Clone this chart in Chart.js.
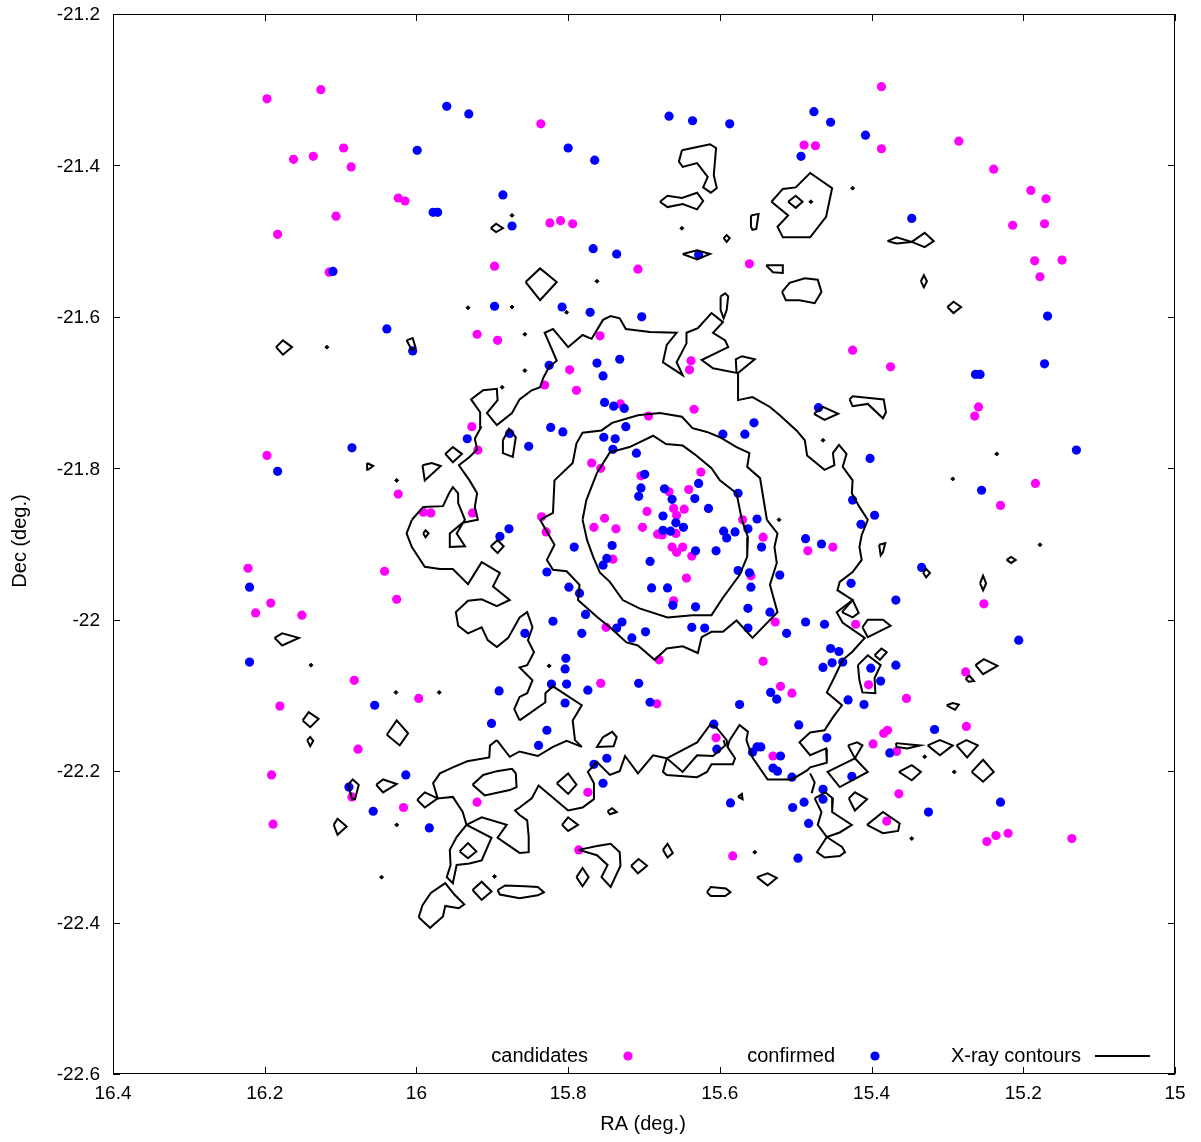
<!DOCTYPE html>
<html><head><meta charset="utf-8">
<script src="https://cdn.jsdelivr.net/npm/chart.js@4.4.1/dist/chart.umd.min.js"></script>
<style>html,body{margin:0;padding:0;background:#fff}#wrap{width:1201px;height:1142px}</style>
</head><body><div id="wrap"><canvas id="c" width="1201" height="1142"></canvas></div>
<script>
const xTicks = [16.4, 16.2, 16, 15.8, 15.6, 15.4, 15.2, 15];
const yTicks = [-22.6, -22.4, -22.2, -22, -21.8, -21.6, -21.4, -21.2];
const legendLabels = ['candidates', 'confirmed', 'X-ray contours'];
const axisTitles = {x: 'RA (deg.)', y: 'Dec (deg.)'};

const candidates = [
[16.197,-21.312],[16.126,-21.300],[16.162,-21.392],[16.136,-21.388],[16.096,-21.377],[16.086,-21.402],[16.024,-21.443],[16.015,-21.447],[16.106,-21.467],[16.183,-21.491],
[16.115,-21.541],[15.897,-21.533],[15.836,-21.345],[15.824,-21.476],[15.810,-21.473],[15.794,-21.477],[15.708,-21.537],[15.561,-21.530],[15.489,-21.373],[15.387,-21.296],
[15.474,-21.374],[15.387,-21.378],[15.285,-21.368],[15.239,-21.405],[15.190,-21.433],[15.170,-21.444],[15.214,-21.479],[15.172,-21.477],[15.185,-21.526],[15.149,-21.525],
[15.178,-21.547],[15.920,-21.623],[15.893,-21.631],[16.197,-21.783],[16.024,-21.834],[15.991,-21.858],[15.981,-21.859],[15.927,-21.745],[15.919,-21.776],[15.926,-21.859],
[15.758,-21.625],[15.798,-21.670],[15.831,-21.690],[15.789,-21.697],[15.638,-21.658],[15.640,-21.670],[15.731,-21.715],[15.634,-21.722],[15.694,-21.731],[15.769,-21.793],
[15.757,-21.800],[15.704,-21.810],[15.625,-21.805],[15.667,-21.831],[15.641,-21.828],[15.661,-21.853],[15.647,-21.854],[15.696,-21.857],[15.657,-21.862],[15.752,-21.866],
[15.835,-21.864],[15.570,-21.868],[15.829,-21.884],[15.766,-21.878],[15.737,-21.880],[15.702,-21.878],[15.682,-21.887],[15.676,-21.888],[15.658,-21.886],[15.543,-21.891],
[15.741,-21.920],[15.663,-21.904],[15.657,-21.911],[15.649,-21.904],[15.637,-21.916],[15.484,-21.909],[15.559,-21.942],[15.644,-21.945],[15.661,-21.975],[15.527,-22.003],
[15.750,-22.010],[15.680,-22.053],[15.543,-22.055],[15.757,-22.084],[15.683,-22.111],[15.520,-22.088],[15.505,-22.097],[15.605,-22.156],[16.222,-21.932],[16.192,-21.978],
[16.212,-21.991],[16.151,-21.994],[16.042,-21.936],[16.026,-21.973],[16.082,-22.080],[15.997,-22.104],[16.180,-22.114],[15.451,-21.904],[15.252,-21.979],[15.421,-22.006],
[15.404,-22.086],[15.276,-22.069],[15.354,-22.104],[15.384,-22.150],[15.379,-22.146],[15.275,-22.141],[15.425,-21.644],[15.375,-21.666],[15.259,-21.719],[15.264,-21.731],
[15.184,-21.820],[15.230,-21.849],[16.077,-22.171],[16.191,-22.205],[16.085,-22.234],[16.017,-22.248],[15.920,-22.241],[16.189,-22.270],[15.774,-22.228],[15.786,-22.304],
[15.530,-22.180],[15.583,-22.312],[15.398,-22.164],[15.367,-22.174],[15.364,-22.230],[15.380,-22.266],[15.236,-22.285],[15.248,-22.293],[15.220,-22.282],[15.136,-22.289]
];

const confirmed = [
[15.960,-21.322],[15.931,-21.332],[15.999,-21.380],[15.886,-21.439],[15.978,-21.462],[15.972,-21.462],[15.874,-21.480],[16.110,-21.540],[15.800,-21.377],[15.765,-21.393],
[15.667,-21.335],[15.636,-21.341],[15.587,-21.345],[15.493,-21.388],[15.767,-21.510],[15.736,-21.517],[15.628,-21.518],[15.476,-21.329],[15.454,-21.343],[15.408,-21.360],
[15.347,-21.470],[16.039,-21.616],[16.005,-21.645],[15.897,-21.586],[16.085,-21.773],[16.183,-21.804],[15.933,-21.761],[15.877,-21.754],[15.808,-21.587],[15.771,-21.594],
[15.703,-21.600],[15.825,-21.664],[15.762,-21.661],[15.732,-21.656],[15.754,-21.678],[15.752,-21.713],[15.740,-21.718],[15.726,-21.721],[15.823,-21.746],[15.807,-21.752],
[15.724,-21.745],[15.852,-21.771],[15.753,-21.759],[15.738,-21.761],[15.741,-21.775],[15.710,-21.780],[15.596,-21.755],[15.567,-21.755],[15.555,-21.740],[15.699,-21.808],
[15.628,-21.820],[15.673,-21.827],[15.704,-21.826],[15.707,-21.837],[15.663,-21.841],[15.633,-21.840],[15.576,-21.833],[15.615,-21.853],[15.675,-21.863],[15.551,-21.867],
[15.658,-21.872],[15.675,-21.882],[15.665,-21.883],[15.648,-21.878],[15.595,-21.883],[15.580,-21.884],[15.563,-21.880],[15.545,-21.904],[15.591,-21.892],[15.792,-21.904],
[15.742,-21.902],[15.749,-21.919],[15.754,-21.928],[15.692,-21.923],[15.632,-21.909],[15.605,-21.909],[15.487,-21.893],[15.828,-21.937],[15.576,-21.935],[15.561,-21.938],
[15.521,-21.941],[15.799,-21.957],[15.785,-21.965],[15.690,-21.958],[15.669,-21.958],[15.559,-21.957],[15.662,-21.981],[15.632,-21.983],[15.563,-21.985],[15.534,-21.990],
[15.777,-21.993],[15.820,-22.002],[15.857,-22.018],[15.782,-22.018],[15.729,-22.003],[15.736,-22.011],[15.716,-22.024],[15.698,-22.016],[15.637,-22.010],[15.620,-22.011],
[15.563,-22.011],[15.512,-22.018],[15.487,-22.003],[15.803,-22.051],[15.804,-22.065],[15.822,-22.085],[15.802,-22.085],[15.774,-22.093],[15.707,-22.084],[15.692,-22.109],
[15.804,-22.110],[15.574,-22.112],[15.533,-22.096],[15.525,-22.105],[15.828,-22.146],[15.608,-22.138],[15.496,-22.139],[15.168,-21.599],[15.263,-21.676],[15.257,-21.676],
[15.172,-21.662],[15.470,-21.720],[15.402,-21.787],[15.130,-21.776],[15.255,-21.829],[15.425,-21.842],[15.396,-21.862],[16.220,-21.957],[15.878,-21.880],[15.890,-21.890],
[16.220,-22.056],[16.055,-22.113],[15.891,-22.094],[15.901,-22.137],[15.414,-21.874],[15.466,-21.900],[15.334,-21.931],[15.427,-21.952],[15.368,-21.974],[15.462,-22.006],
[15.206,-22.027],[15.454,-22.038],[15.443,-22.042],[15.464,-22.063],[15.452,-22.057],[15.438,-22.056],[15.401,-22.064],[15.388,-22.081],[15.368,-22.060],[15.431,-22.106],
[15.410,-22.112],[15.317,-22.145],[15.459,-22.156],[16.089,-22.221],[16.014,-22.205],[16.057,-22.253],[15.983,-22.275],[15.839,-22.166],[15.749,-22.183],[15.766,-22.191],
[15.754,-22.216],[15.604,-22.171],[15.557,-22.175],[15.551,-22.168],[15.546,-22.168],[15.520,-22.180],[15.530,-22.196],[15.524,-22.200],[15.505,-22.208],[15.586,-22.242],
[15.504,-22.248],[15.489,-22.241],[15.483,-22.269],[15.497,-22.315],[15.376,-22.176],[15.426,-22.207],[15.464,-22.224],[15.464,-22.237],[15.325,-22.254],[15.230,-22.241]
];

// closed X-ray contour loops
const contourInner = [[15.781,-21.868],[15.776,-21.842],[15.762,-21.806],[15.745,-21.779],[15.719,-21.772],[15.688,-21.757],[15.671,-21.768],[15.649,-21.770],[15.631,-21.783],[15.611,-21.800],[15.600,-21.816],[15.578,-21.833],[15.571,-21.868],[15.563,-21.891],[15.564,-21.917],[15.574,-21.941],[15.596,-21.971],[15.611,-21.994],[15.636,-21.994],[15.669,-21.997],[15.706,-21.985],[15.728,-21.974],[15.745,-21.950],[15.758,-21.938],[15.767,-21.917],[15.775,-21.895]];
const contourMiddle = [[15.837,-21.868],[15.820,-21.859],[15.818,-21.816],[15.794,-21.793],[15.789,-21.767],[15.781,-21.753],[15.756,-21.750],[15.742,-21.740],[15.708,-21.730],[15.679,-21.727],[15.650,-21.732],[15.636,-21.747],[15.617,-21.752],[15.600,-21.759],[15.578,-21.772],[15.561,-21.780],[15.564,-21.798],[15.547,-21.813],[15.538,-21.868],[15.524,-21.886],[15.528,-21.904],[15.525,-21.925],[15.534,-21.954],[15.524,-21.990],[15.557,-22.024],[15.578,-22.001],[15.596,-22.016],[15.611,-22.016],[15.624,-22.023],[15.629,-22.044],[15.649,-22.035],[15.670,-22.038],[15.686,-22.053],[15.708,-22.034],[15.723,-22.030],[15.745,-22.010],[15.761,-21.997],[15.787,-21.974],[15.785,-21.954],[15.802,-21.936],[15.820,-21.934],[15.828,-21.921],[15.818,-21.901]];
const smallContours = [
[[15.650,-21.380],[15.636,-21.377],[15.613,-21.372],[15.605,-21.377],[15.608,-21.413],[15.604,-21.430],[15.612,-21.436],[15.622,-21.429],[15.616,-21.415],[15.630,-21.397],[15.649,-21.402],[15.654,-21.395]],
[[15.679,-21.448],[15.669,-21.440],[15.650,-21.443],[15.630,-21.436],[15.622,-21.447],[15.630,-21.458],[15.649,-21.451],[15.669,-21.455]],
[[15.559,-21.466],[15.549,-21.464],[15.552,-21.484],[15.557,-21.485],[15.559,-21.481]],
[[15.649,-21.517],[15.630,-21.512],[15.613,-21.517],[15.630,-21.524]],
[[15.539,-21.532],[15.517,-21.532],[15.517,-21.542],[15.530,-21.541]],
[[15.532,-21.448],[15.517,-21.431],[15.500,-21.429],[15.481,-21.410],[15.452,-21.430],[15.460,-21.468],[15.481,-21.495],[15.517,-21.495],[15.524,-21.481],[15.510,-21.466]],
[[15.510,-21.448],[15.500,-21.440],[15.491,-21.448],[15.500,-21.456]],
[[15.856,-21.554],[15.837,-21.536],[15.815,-21.554],[15.837,-21.578]],
[[15.518,-21.567],[15.508,-21.555],[15.488,-21.549],[15.471,-21.551],[15.466,-21.567],[15.475,-21.582],[15.495,-21.578],[15.513,-21.578]],
[[15.599,-21.573],[15.593,-21.569],[15.589,-21.573],[15.591,-21.591],[15.595,-21.602],[15.599,-21.591]],
[[15.595,-21.496],[15.591,-21.492],[15.587,-21.496],[15.591,-21.501]],
[[15.902,-21.483],[15.895,-21.477],[15.886,-21.483],[15.895,-21.488]],
[[15.379,-21.500],[15.367,-21.495],[15.347,-21.501],[15.330,-21.489],[15.318,-21.500],[15.330,-21.508],[15.347,-21.501],[15.367,-21.503]],
[[15.335,-21.553],[15.331,-21.545],[15.327,-21.553],[15.331,-21.561]],
[[16.185,-21.640],[16.176,-21.631],[16.164,-21.640],[16.176,-21.650]],
[[16.013,-21.631],[16.005,-21.628],[16.001,-21.641],[16.006,-21.644]],
[[15.300,-21.587],[15.292,-21.580],[15.282,-21.587],[15.292,-21.595]],
[[15.429,-21.709],[15.425,-21.705],[15.384,-21.709],[15.381,-21.726],[15.385,-21.734],[15.405,-21.715],[15.425,-21.718]],
[[15.476,-21.728],[15.464,-21.719],[15.444,-21.728],[15.462,-21.736]],
[[15.992,-21.796],[15.980,-21.793],[15.968,-21.797],[15.989,-21.816]],
[[15.962,-21.781],[15.952,-21.772],[15.940,-21.781],[15.952,-21.792]],
[[15.886,-21.763],[15.878,-21.748],[15.869,-21.759],[15.873,-21.785],[15.886,-21.780]],
[[16.065,-21.793],[16.057,-21.797],[16.064,-21.802]],
[[16.187,-22.024],[16.177,-22.018],[16.155,-22.024],[16.177,-22.034]],
[[16.150,-22.133],[16.142,-22.122],[16.129,-22.131],[16.140,-22.142]],
[[16.039,-22.152],[16.026,-22.133],[16.011,-22.150],[16.022,-22.166]],
[[15.902,-21.903],[15.893,-21.895],[15.885,-21.903],[15.893,-21.912]],
[[15.991,-21.886],[15.988,-21.882],[15.984,-21.886],[15.988,-21.891]],
[[15.412,-22.010],[15.405,-22.000],[15.385,-22.000],[15.375,-22.008],[15.405,-22.023]],
[[15.418,-22.060],[15.405,-22.047],[15.388,-22.060],[15.396,-22.077],[15.395,-22.097],[15.412,-22.096],[15.416,-22.080]],
[[15.396,-22.047],[15.387,-22.038],[15.380,-22.043],[15.389,-22.053]],
[[15.439,-21.990],[15.425,-21.974],[15.417,-21.991],[15.425,-21.997]],
[[15.390,-21.901],[15.382,-21.899],[15.385,-21.911],[15.388,-21.915]],
[[15.332,-21.938],[15.328,-21.933],[15.323,-21.938],[15.328,-21.944]],
[[15.257,-21.952],[15.253,-21.942],[15.249,-21.952],[15.253,-21.961]],
[[15.222,-21.921],[15.216,-21.917],[15.210,-21.921],[15.216,-21.925]],
[[15.263,-22.060],[15.252,-22.052],[15.234,-22.061],[15.253,-22.072]],
[[15.276,-22.078],[15.271,-22.074],[15.265,-22.081],[15.272,-22.082]],
[[15.301,-22.113],[15.293,-22.110],[15.285,-22.112],[15.290,-22.119]],
[[15.475,-22.236],[15.461,-22.228],[15.451,-22.236],[15.452,-22.254],[15.426,-22.271],[15.442,-22.281],[15.459,-22.287],[15.471,-22.271],[15.466,-22.254]],
[[15.459,-22.287],[15.439,-22.300],[15.435,-22.307],[15.442,-22.312],[15.462,-22.314],[15.472,-22.307]],
[[15.431,-22.166],[15.419,-22.162],[15.412,-22.166],[15.422,-22.183]],
[[15.422,-22.183],[15.405,-22.201],[15.442,-22.221],[15.458,-22.201]],
[[15.430,-22.236],[15.422,-22.228],[15.406,-22.237],[15.422,-22.252]],
[[15.406,-22.271],[15.385,-22.254],[15.363,-22.269],[15.365,-22.279],[15.385,-22.282]],
[[15.368,-22.163],[15.336,-22.166],[15.353,-22.170],[15.367,-22.168]],
[[15.326,-22.166],[15.310,-22.159],[15.293,-22.166],[15.310,-22.179]],
[[15.288,-22.166],[15.275,-22.159],[15.260,-22.166],[15.274,-22.182]],
[[15.364,-22.201],[15.347,-22.192],[15.335,-22.201],[15.347,-22.212]],
[[15.268,-22.201],[15.253,-22.185],[15.239,-22.201],[15.253,-22.214]],
[[16.090,-22.218],[16.084,-22.211],[16.076,-22.218],[16.081,-22.237],[16.085,-22.236]],
[[16.053,-22.218],[16.044,-22.211],[16.026,-22.217],[16.044,-22.228]],
[[15.999,-22.238],[15.989,-22.228],[15.972,-22.236],[15.989,-22.248]],
[[16.109,-22.271],[16.104,-22.263],[16.092,-22.273],[16.104,-22.284]],
[[15.926,-22.357],[15.914,-22.346],[15.901,-22.359],[15.914,-22.370]],
[[15.997,-22.393],[15.992,-22.377],[15.981,-22.361],[15.962,-22.348],[15.950,-22.363],[15.937,-22.376],[15.944,-22.381],[15.962,-22.378],[15.965,-22.392],[15.982,-22.407]],
[[15.926,-22.218],[15.912,-22.205],[15.894,-22.200],[15.874,-22.197],[15.869,-22.203],[15.868,-22.221],[15.877,-22.225],[15.910,-22.232]],
[[16.144,-22.159],[16.140,-22.155],[16.136,-22.160],[16.140,-22.167]],
[[15.943,-22.306],[15.932,-22.295],[15.921,-22.306],[15.932,-22.315]],
[[15.934,-22.271],[15.947,-22.287],[15.956,-22.304],[15.955,-22.324],[15.960,-22.340],[15.952,-22.348],[15.947,-22.324],[15.930,-22.322],[15.914,-22.318],[15.901,-22.288]],
[[15.815,-22.216],[15.800,-22.203],[15.789,-22.218],[15.800,-22.230]],
[[15.748,-22.253],[15.742,-22.249],[15.736,-22.254],[15.745,-22.257]],
[[15.808,-22.271],[15.800,-22.261],[15.787,-22.271],[15.800,-22.279]],
[[15.786,-22.304],[15.762,-22.299],[15.744,-22.296],[15.732,-22.307],[15.731,-22.325],[15.744,-22.353],[15.756,-22.340],[15.748,-22.324],[15.762,-22.311]],
[[15.789,-22.340],[15.781,-22.328],[15.773,-22.340],[15.781,-22.352]],
[[15.717,-22.325],[15.707,-22.316],[15.696,-22.325],[15.708,-22.335]],
[[15.675,-22.304],[15.669,-22.296],[15.662,-22.308],[15.669,-22.314]],
[[15.893,-22.357],[15.883,-22.351],[15.857,-22.352],[15.840,-22.353],[15.832,-22.360],[15.840,-22.364],[15.864,-22.368],[15.890,-22.363]],
[[15.617,-22.360],[15.612,-22.353],[15.592,-22.355],[15.586,-22.360],[15.593,-22.365],[15.612,-22.365]],
[[15.551,-22.340],[15.537,-22.335],[15.525,-22.341],[15.537,-22.351]],
[[15.576,-22.234],[15.571,-22.230],[15.570,-22.237]],
[[15.754,-22.155],[15.742,-22.148],[15.736,-22.155],[15.740,-22.167],[15.762,-22.168]]
];
// open X-ray contour polylines
const contourOuterA = [[16.006,-21.868],[15.991,-21.851],[15.965,-21.850],[15.957,-21.833],[15.952,-21.825],[15.945,-21.833],[15.945,-21.846],[15.936,-21.868],[15.947,-21.886],[15.936,-21.903],[15.956,-21.904],[15.956,-21.886],[15.939,-21.872],[15.919,-21.868],[15.923,-21.851],[15.920,-21.833],[15.930,-21.816],[15.944,-21.796],[15.930,-21.785],[15.920,-21.775],[15.923,-21.761],[15.915,-21.746],[15.916,-21.726],[15.928,-21.709],[15.912,-21.697],[15.894,-21.695],[15.893,-21.710],[15.907,-21.727],[15.894,-21.743],[15.874,-21.727],[15.864,-21.709],[15.848,-21.697],[15.837,-21.693],[15.833,-21.681],[15.825,-21.666],[15.815,-21.658],[15.821,-21.644],[15.831,-21.621],[15.820,-21.616],[15.800,-21.640],[15.781,-21.624],[15.769,-21.629],[15.754,-21.604],[15.744,-21.599],[15.732,-21.602],[15.724,-21.616],[15.692,-21.620],[15.657,-21.621],[15.670,-21.637],[15.675,-21.660],[15.649,-21.677],[15.657,-21.660],[15.644,-21.635],[15.644,-21.621],[15.629,-21.615],[15.611,-21.595],[15.596,-21.607],[15.609,-21.621],[15.593,-21.631],[15.589,-21.640],[15.624,-21.657],[15.609,-21.668],[15.578,-21.674],[15.579,-21.656],[15.571,-21.652],[15.554,-21.656],[15.576,-21.674],[15.576,-21.710],[15.557,-21.706],[15.534,-21.719],[15.521,-21.730],[15.499,-21.750],[15.488,-21.763],[15.485,-21.783],[15.462,-21.802],[15.449,-21.796],[15.451,-21.780],[15.443,-21.769],[15.433,-21.781],[15.438,-21.798],[15.425,-21.816],[15.426,-21.833],[15.416,-21.851],[15.405,-21.868],[15.413,-21.888],[15.416,-21.904],[15.413,-21.921],[15.425,-21.937],[15.442,-21.950],[15.445,-21.961],[15.425,-21.974],[15.446,-21.990],[15.438,-22.004],[15.409,-22.024],[15.426,-22.043],[15.438,-22.053],[15.449,-22.076],[15.459,-22.096],[15.439,-22.113],[15.451,-22.129],[15.462,-22.146],[15.481,-22.149],[15.495,-22.162],[15.481,-22.179],[15.460,-22.170],[15.459,-22.189],[15.481,-22.195],[15.485,-22.199],[15.505,-22.211],[15.537,-22.211],[15.557,-22.182],[15.565,-22.159],[15.563,-22.148],[15.574,-22.139],[15.587,-22.159],[15.590,-22.168]];
const contourOuterB = [[15.670,-22.183],[15.630,-22.162],[15.613,-22.139],[15.604,-22.143],[15.591,-22.159],[15.590,-22.168],[15.580,-22.183],[15.583,-22.191],[15.611,-22.191],[15.617,-22.201],[15.630,-22.208],[15.670,-22.205],[15.675,-22.201],[15.670,-22.183],[15.688,-22.179],[15.708,-22.203],[15.725,-22.180],[15.732,-22.200],[15.745,-22.205],[15.762,-22.188],[15.774,-22.201],[15.766,-22.216],[15.766,-22.237],[15.781,-22.248],[15.800,-22.252],[15.839,-22.219],[15.848,-22.236],[15.864,-22.248],[15.870,-22.252],[15.864,-22.258],[15.854,-22.265],[15.852,-22.287],[15.852,-22.307],[15.864,-22.308],[15.893,-22.288],[15.881,-22.271],[15.914,-22.261],[15.934,-22.271],[15.939,-22.254],[15.952,-22.234],[15.972,-22.236],[15.978,-22.216],[15.969,-22.203],[15.952,-22.195],[15.933,-22.187],[15.904,-22.182],[15.903,-22.166],[15.894,-22.159]];
const contourOuterC = [[16.006,-21.868],[16.013,-21.886],[16.006,-21.904],[15.989,-21.930],[15.969,-21.933],[15.952,-21.933],[15.932,-21.953],[15.914,-21.924],[15.890,-21.938],[15.899,-21.956],[15.877,-21.974],[15.894,-21.982],[15.914,-21.973],[15.932,-21.975],[15.948,-21.990],[15.945,-22.008],[15.932,-22.018],[15.914,-22.010],[15.906,-22.027],[15.894,-22.036],[15.879,-22.024],[15.864,-21.997],[15.854,-21.990],[15.847,-22.010],[15.853,-22.027],[15.845,-22.043],[15.854,-22.060],[15.864,-22.063],[15.847,-22.080],[15.854,-22.097],[15.864,-22.102],[15.871,-22.118],[15.864,-22.133]];
const contourOuterD = [[15.864,-22.133],[15.830,-22.109],[15.830,-22.097],[15.820,-22.088],[15.782,-22.113],[15.794,-22.133],[15.791,-22.159],[15.782,-22.168]];
const contourOuterE = [[15.894,-22.159],[15.877,-22.181],[15.864,-22.174],[15.840,-22.180],[15.820,-22.168],[15.802,-22.160],[15.782,-22.168]];
const contourBowl = [[15.670,-22.183],[15.649,-22.201],[15.630,-22.179],[15.609,-22.180],[15.593,-22.166],[15.595,-22.159]];
const contourSE = [[15.481,-22.203],[15.475,-22.215],[15.479,-22.229]];
// very small contour islands (drawn as dots)
const tinyContours = [[15.874,-21.466],[15.650,-21.483],[15.762,-21.553],[15.425,-21.430],[16.118,-21.640],[15.932,-21.588],[15.874,-21.587],[16.026,-21.816],[15.464,-21.763],[15.235,-21.781],[15.293,-21.814],[15.178,-21.901],[16.139,-22.060],[16.027,-22.096],[15.970,-22.096],[15.825,-22.061],[16.026,-22.271],[16.046,-22.340],[15.897,-22.339],[15.330,-22.181],[15.291,-22.201],[15.347,-22.289],[15.554,-22.307],[15.887,-21.693],[15.857,-21.671],[15.857,-21.623],[15.802,-21.594],[15.522,-21.868],[15.480,-21.448]];

const FONT = '"Liberation Sans", Arial, sans-serif';
const FS_TICK = 19;
const FS_TEXT = 20;
const toXY = a => a.map(p => ({x: p[0], y: p[1]}));
const fmt = v => String(Number(v.toFixed(1)));
const lineDs = (pts, close) => ({
  data: toXY(close ? pts.concat([pts[0]]) : pts),
  showLine: true, pointRadius: 0, borderColor: '#000', borderWidth: 2,
  fill: false, tension: 0, order: 0, borderJoinStyle: 'miter'
});

const datasets = [];
datasets.push({label: legendLabels[0], data: toXY(candidates), backgroundColor: '#ff00ff', borderWidth: 0, pointRadius: 4.6, order: 3});
datasets.push({label: legendLabels[1], data: toXY(confirmed), backgroundColor: '#0000ff', borderWidth: 0, pointRadius: 4.6, order: 2});
[contourInner, contourMiddle].concat(smallContours).forEach(c => datasets.push(lineDs(c, true)));
[contourOuterA, contourOuterB, contourOuterC, contourOuterD, contourOuterE, contourBowl, contourSE].forEach(c => datasets.push(lineDs(c, false)));
datasets.push({data: toXY(tinyContours), pointStyle: 'rectRot', pointRadius: 2, backgroundColor: '#000', borderColor: '#000', borderWidth: 1, order: 0});

const decor = {
  id: 'decor',
  afterDraw(chart) {
    const {ctx, chartArea: a, scales: {x, y}} = chart;
    ctx.save();
    ctx.strokeStyle = '#000'; ctx.lineWidth = 1;
    ctx.strokeRect(a.left + 0.5, a.top + 0.5, a.right - a.left - 1, a.bottom - a.top - 1);
    const L = 7;
    ctx.beginPath();
    xTicks.forEach(v => {
      const px = Math.round(x.getPixelForValue(v)) + 0.5;
      ctx.moveTo(px, a.bottom); ctx.lineTo(px, a.bottom - L);
      ctx.moveTo(px, a.top); ctx.lineTo(px, a.top + L);
    });
    yTicks.forEach(v => {
      const py = Math.round(y.getPixelForValue(v)) + 0.5;
      ctx.moveTo(a.left, py); ctx.lineTo(a.left + L, py);
      ctx.moveTo(a.right, py); ctx.lineTo(a.right - L, py);
    });
    ctx.stroke();
    // tick labels
    ctx.fillStyle = '#000';
    ctx.font = FS_TICK + 'px ' + FONT;
    ctx.textBaseline = 'middle';
    ctx.textAlign = 'right';
    yTicks.forEach(v => ctx.fillText(fmt(v), a.left - 13, y.getPixelForValue(v) + 1));
    ctx.textAlign = 'center';
    xTicks.forEach(v => ctx.fillText(fmt(v), x.getPixelForValue(v), a.bottom + 20));
    // legend
    ctx.font = FS_TEXT + 'px ' + FONT;
    ctx.textAlign = 'right';
    const ly = 1056;
    ctx.fillText(legendLabels[0], 588, ly);
    ctx.fillText(legendLabels[1], 835, ly);
    ctx.fillText(legendLabels[2], 1081, ly);
    ctx.fillStyle = '#ff00ff'; ctx.beginPath(); ctx.arc(628, ly, 4.6, 0, Math.PI * 2); ctx.fill();
    ctx.fillStyle = '#0000ff'; ctx.beginPath(); ctx.arc(875, ly, 4.6, 0, Math.PI * 2); ctx.fill();
    ctx.strokeStyle = '#000'; ctx.lineWidth = 2;
    ctx.beginPath(); ctx.moveTo(1095, ly); ctx.lineTo(1150, ly); ctx.stroke();
    // axis titles
    ctx.fillStyle = '#000';
    ctx.textAlign = 'center';
    ctx.fillText(axisTitles.x, 643, 1124);
    ctx.translate(20, 541); ctx.rotate(-Math.PI / 2);
    ctx.fillText(axisTitles.y, 0, 0);
    ctx.restore();
  }
};

new Chart(document.getElementById('c'), {
  type: 'scatter',
  data: {datasets},
  options: {
    responsive: false, animation: false, devicePixelRatio: 1,
    layout: {padding: {left: 0, right: 26, top: 14, bottom: 0}},
    plugins: {legend: {display: false}, tooltip: {enabled: false}},
    scales: {
      x: {
        type: 'linear', reverse: true, min: 15, max: 16.4,
        afterFit: s => { s.height = 68; },
        grid: {display: false, drawTicks: false}, border: {display: false},
        ticks: {display: false}
      },
      y: {
        type: 'linear', min: -22.6, max: -21.2,
        afterFit: s => { s.width = 113; },
        grid: {display: false, drawTicks: false}, border: {display: false},
        ticks: {display: false}
      }
    }
  },
  plugins: [decor]
});
</script></body></html>
